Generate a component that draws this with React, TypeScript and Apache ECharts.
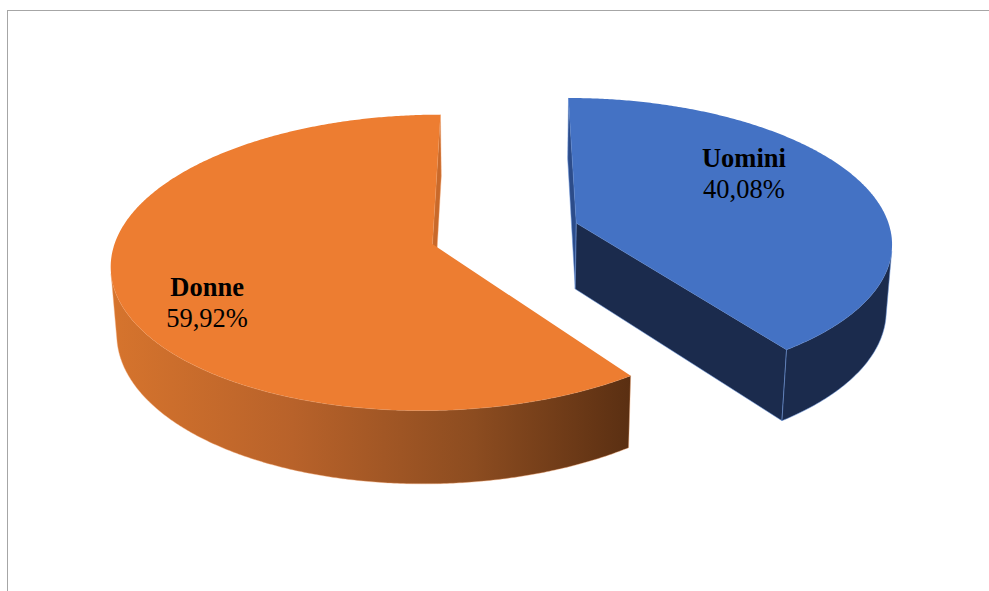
import React, { useEffect, useRef } from "react";
import * as echarts from "echarts";

// ---- data ----
const categories: string[] = ["Uomini", "Donne"];
const shares: number[] = [40.08, 59.92];

// ---- style / layout constants ----
const W = 989;
const H_PX = 591;
const topColors = ["#4472C4", "#ED7D31"];
const sideColors = ["#1B2B4D", "#8A4A1E"];
const backCutColors = ["#2C4C8A", "#C9692A"];
const edgeColors = ["rgba(110,150,220,0.9)", "rgba(245,170,120,0.7)"];
const FONT = "'Liberation Serif', 'Times New Roman', serif";

// projection parameters (pie radius = 1 in world units)
const CX = 505;
const CY = 233.5;
const K = 315;
const ELEV = (27 * Math.PI) / 180;
const DIST = 7.2;
const THICK = 0.24;
const EXPLODE = 0.24;
// label placement ellipse (screen)
const LCX = 475.5;
const LCY = 238;
const LRX = 282;
const LRY = 210;

const SN = Math.sin(ELEV);
const CS = Math.cos(ELEV);

function proj(u: number, v: number, h: number): number[] {
  const z = v * CS + h * SN;
  const s = DIST / (DIST - z);
  return [CX + K * u * s, CY + K * (v * SN - h * CS) * s];
}

const total = shares.reduce((a, b) => a + b, 0);

function renderItem(params: any, api: any) {
  const i = params.dataIndex;
  const val = api.value(0) as number;
  let start = 0;
  for (let j = 0; j < i; j++) start += shares[j];
  const a1 = (start / total) * 2 * Math.PI;
  const a2 = ((start + val) / total) * 2 * Math.PI;
  const mid = (a1 + a2) / 2;
  const Ou = EXPLODE * Math.sin(mid);
  const Ov = -EXPLODE * Math.cos(mid);
  const camV = DIST * CS;

  const steps = Math.max(8, Math.ceil(((a2 - a1) * 180) / Math.PI / 0.5));
  const angles: number[] = [];
  for (let k = 0; k <= steps; k++) angles.push(a1 + ((a2 - a1) * k) / steps);

  const rim = (t: number, h: number) => proj(Ou + Math.sin(t), Ov - Math.cos(t), h);

  const children: any[] = [];

  // radial walls
  const radial = (t: number, sign: number, color: string) => {
    const nu = sign * Math.cos(t);
    const nv = sign * Math.sin(t);
    const vis = -Ou * nu + (camV - Ov) * nv;
    if (vis <= 0) return;
    children.push({
      type: "polygon",
      shape: {
        points: [proj(Ou, Ov, 0), rim(t, 0), rim(t, -THICK), proj(Ou, Ov, -THICK)],
      },
      style: { fill: color, stroke: edgeColors[i], lineWidth: 0.6 },
    });
  };
  radial(a1, -1, i === 0 ? backCutColors[0] : sideColors[0]);
  radial(a2, 1, i === 1 ? backCutColors[1] : sideColors[0]);

  // outer wall: visible part
  const visAngles = angles.filter((t) => {
    const ru = Math.sin(t);
    const rv = -Math.cos(t);
    const pu = Ou + ru;
    const pv = Ov + rv;
    return -pu * ru + (camV - pv) * rv > 0;
  });
  if (visAngles.length > 1) {
    const topPts = visAngles.map((t) => rim(t, 0));
    const botPts = visAngles.map((t) => rim(t, -THICK)).reverse();
    const pts = topPts.concat(botPts);
    let fill: any = sideColors[i];
    if (i === 1) {
      const xs = pts.map((p) => p[0]);
      const x0 = Math.min(...xs);
      const x1 = Math.max(...xs);
      fill = {
        type: "linear",
        x: x0,
        y: 0,
        x2: x1,
        y2: 0,
        global: true,
        colorStops: [
          { offset: 0, color: "#D6742D" },
          { offset: 0.35, color: "#B8622A" },
          { offset: 0.7, color: "#8C4C20" },
          { offset: 1, color: "#5A2F12" },
        ],
      };
    }
    children.push({
      type: "polygon",
      shape: { points: pts },
      style: { fill, stroke: edgeColors[i], lineWidth: 0.6 },
    });
  }

  // top face
  const topFace = [proj(Ou, Ov, 0)].concat(angles.map((t) => rim(t, 0)));
  children.push({
    type: "polygon",
    shape: { points: topFace },
    style: { fill: topColors[i] },
  });

  // label
  const lx = LCX + LRX * Math.sin(mid);
  const ly = LCY - LRY * Math.cos(mid);
  const pct = val.toFixed(2).replace(".", ",") + "%";
  children.push({
    type: "text",
    x: lx,
    y: ly,
    style: {
      text: "{b|" + categories[i] + "}\n{p|" + pct + "}",
      align: "center",
      verticalAlign: "middle",
      fill: "#000",
      rich: {
        b: { fontFamily: FONT, fontSize: 26.5, fontWeight: "bold", lineHeight: 31, fill: "#000", align: "center" },
        p: { fontFamily: FONT, fontSize: 26.5, lineHeight: 31, fill: "#000", align: "center" },
      },
    },
  });

  return { type: "group", children };
}

export default function App() {
  const ref = useRef<HTMLDivElement>(null);
  useEffect(() => {
    document.body.style.margin = "0";
    if (!ref.current) return;
    const chart = echarts.init(ref.current, null, { renderer: "svg" });
    chart.setOption({
      animation: false,
      backgroundColor: "#ffffff",
      graphic: [
        { type: "line", shape: { x1: 7, y1: 10.5, x2: W, y2: 10.5 }, style: { stroke: "#A6A6A6", lineWidth: 1 } },
        { type: "line", shape: { x1: 7.5, y1: 10, x2: 7.5, y2: H_PX }, style: { stroke: "#A6A6A6", lineWidth: 1 } },
      ],
      series: [
        {
          type: "custom",
          coordinateSystem: "none",
          renderItem,
          silent: true,
          data: categories.map((c, idx) => ({ name: c, value: [shares[idx]] })),
        },
      ],
    });
    return () => chart.dispose();
  }, []);
  return <div ref={ref} style={{ width: W, height: H_PX }} />;
}
